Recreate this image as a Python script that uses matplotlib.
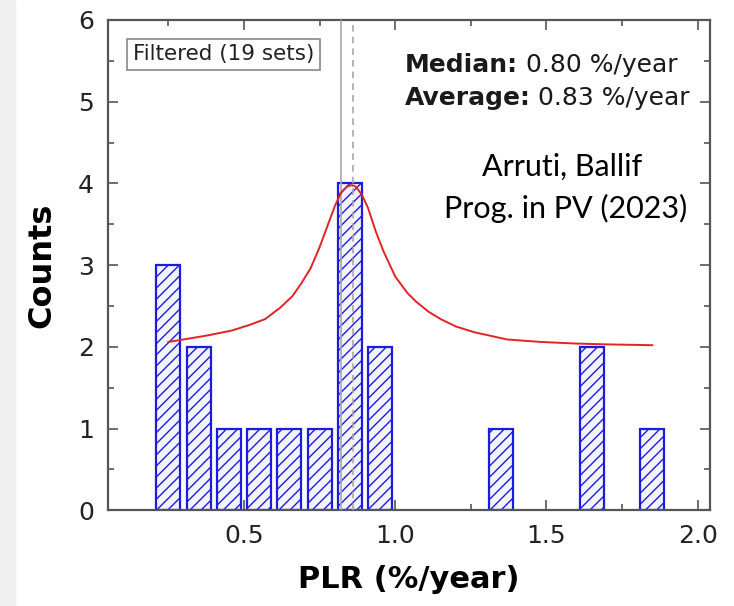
import numpy as np
import matplotlib.pyplot as plt
from matplotlib.patches import Rectangle
from matplotlib.ticker import MultipleLocator

# Histograma PLR
centros = [0.25, 0.35, 0.45, 0.55, 0.65, 0.75, 0.85, 0.95, 1.35, 1.65, 1.85]
cuentas = [3, 2, 1, 1, 1, 1, 4, 2, 1, 2, 1]
ancho = 0.08

# Curva de ajuste
ajuste_x = [0.25, 0.30, 0.38, 0.46, 0.52, 0.57, 0.62, 0.66, 0.69, 0.72, 0.75,
            0.78, 0.80, 0.82, 0.84, 0.856, 0.87, 0.89, 0.91, 0.935, 0.96,
            1.00, 1.04, 1.07, 1.11, 1.15, 1.20, 1.26, 1.37, 1.48, 1.60, 1.70,
            1.85]
ajuste_y = [2.06, 2.09, 2.14, 2.20, 2.27, 2.34, 2.48, 2.62, 2.78, 2.96, 3.22,
            3.52, 3.72, 3.88, 3.96, 3.98, 3.96, 3.86, 3.70, 3.42, 3.18,
            2.86, 2.66, 2.55, 2.43, 2.34, 2.25, 2.18, 2.09, 2.06, 2.04, 2.03,
            2.02]

mediana_linea = 0.82
promedio_linea = 0.86

plt.rcParams['font.family'] = ['DejaVu Sans']
plt.rcParams['hatch.linewidth'] = 1.0

fig = plt.figure(figsize=(7.34, 6.06), dpi=100)
fig.patches.append(Rectangle((0, 0), 0.02, 1, transform=fig.transFigure,
                             color='#efefef', zorder=0))
ax = fig.add_axes([0.147, 0.158, 0.820, 0.809])

ax.bar(centros, cuentas, width=ancho, facecolor='#f4f4ff', edgecolor='#1c1ce0',
       hatch='///', linewidth=1.6, zorder=2)
ax.axvline(mediana_linea, color='#a8a8a8', lw=1.2, zorder=3)
ax.axvline(promedio_linea, color='#a8a8a8', lw=1.2, ls=(0, (4, 3)), zorder=3)
ax.plot(ajuste_x, ajuste_y, color='#e52222', lw=1.4, zorder=4)

ax.set_xlim(0.05, 2.04)
ax.set_ylim(0, 6)
ax.xaxis.set_major_locator(MultipleLocator(0.5))
ax.xaxis.set_minor_locator(MultipleLocator(0.25))
ax.yaxis.set_major_locator(MultipleLocator(1))
ax.yaxis.set_minor_locator(MultipleLocator(0.5))
ax.set_xticks([0.5, 1.0, 1.5, 2.0], ['0.5', '1.0', '1.5', '2.0'])

for s in ax.spines.values():
    s.set_color('#555555')
    s.set_linewidth(1.6)
ax.tick_params(which='both', direction='in', top=True, right=True,
               color='#555555', width=1.2)
ax.tick_params(which='major', length=7, labelsize=18, pad=10,
               labelcolor='#222222')
ax.tick_params(which='minor', length=4)

ax.set_xlabel('PLR (%/year)', fontsize=22, fontweight='bold', labelpad=12)
ax.set_ylabel('Counts', fontsize=23, fontweight='bold', labelpad=15)

ax.text(0.192, 0.93, 'Filtered (19 sets)', transform=ax.transAxes,
        ha='center', va='center', fontsize=15.5, color='#222222',
        bbox=dict(boxstyle='square,pad=0.25', facecolor='white',
                  edgecolor='#888888', linewidth=1.2))

t1 = ax.text(0.493, 0.884, 'Median:', transform=ax.transAxes, ha='left',
             va='bottom', fontsize=18, fontweight='bold', color='#1a1a1a')
ax.annotate(' 0.80 %/year', xy=(1, 0), xycoords=t1, ha='left', va='bottom',
            fontsize=18, color='#1a1a1a')
t2 = ax.text(0.493, 0.816, 'Average:', transform=ax.transAxes, ha='left',
             va='bottom', fontsize=18, fontweight='bold', color='#1a1a1a')
ax.annotate(' 0.83 %/year', xy=(1, 0), xycoords=t2, ha='left', va='bottom',
            fontsize=18, color='#1a1a1a')

ax.text(0.755, 0.700, 'Arruti, Ballif', transform=ax.transAxes, ha='center',
        va='center', fontsize=22, family='Lato', color='black')
ax.text(0.761, 0.616, 'Prog. in PV (2023)', transform=ax.transAxes,
        ha='center', va='center', fontsize=22, family='Lato', color='black')

fig.savefig('out.png', dpi=100)
